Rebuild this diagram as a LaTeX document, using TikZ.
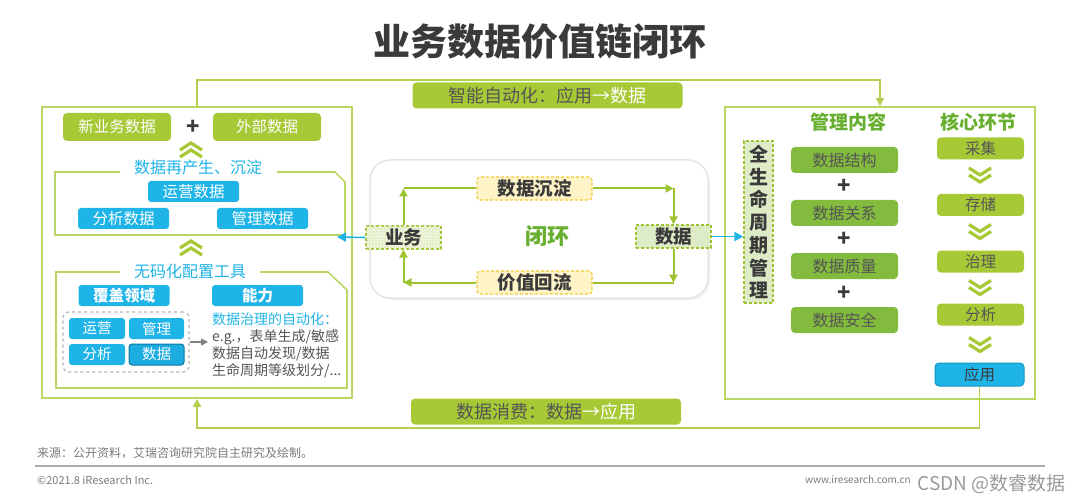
\documentclass[tikz,border=0pt]{standalone}
\usepackage{fontspec}
\setmainfont{Noto Sans CJK SC}
\usepackage{tikz}
\usetikzlibrary{arrows.meta, positioning, calc, shadows, patterns}
\usepackage{xcolor}
\definecolor{leaf}{HTML}{A6C935}
\definecolor{leafline}{HTML}{BAD764}
\definecolor{loopgreen}{HTML}{B2D04E}
\definecolor{arrowgreen}{HTML}{9DC430}
\definecolor{moss}{HTML}{82BB3D}
\definecolor{sky}{HTML}{1FB4E8}
\definecolor{skydark}{HTML}{1593C4}
\definecolor{ink}{HTML}{3A3A3A}
\definecolor{inkgray}{HTML}{555555}
\definecolor{heading}{HTML}{67AF2E}
\definecolor{sand}{HTML}{FFF4C8}
\definecolor{sandline}{HTML}{F0CB3A}
\definecolor{paleleaf}{HTML}{DDEBC6}
\definecolor{hatchbg}{HTML}{F1F6E2}
\definecolor{footgray}{HTML}{7A7A7A}
\newcommand{\pxfont}[1]{\fontsize{#1}{#1}\selectfont}

\tikzset{
  framebox/.style={draw=leafline, line width=1.6pt, inner sep=0pt},
  frameline/.style={draw=leafline, line width=1.6pt},
  leafbox/.style={fill=leaf, rounded corners=4pt, text=white, inner sep=0pt, minimum width=108pt, minimum height=28pt, font=\pxfont{15.5}},
  skybox/.style={fill=sky, rounded corners=3pt, text=white, inner sep=0pt, minimum width=91pt, minimum height=21pt, font=\pxfont{15.5}},
  smallsky/.style={skybox, minimum width=56pt, font=\pxfont{14.5}},
  skylabel/.style={fill=white, text=sky, inner sep=0pt, font=\pxfont{16}},
  banner/.style={fill=leaf, rounded corners=4pt, text=white, inner sep=0pt, minimum width=270pt, minimum height=26pt, font=\pxfont{18}},
  loopline/.style={draw=loopgreen, line width=1.6pt},
  flowtag/.style={draw=sandline, fill=sand, dash pattern=on 3pt off 2pt, line width=1.2pt, rounded corners=3pt, minimum width=115pt, minimum height=23pt, inner sep=0pt, text=ink, font=\pxfont{18.5}\bfseries},
  endtag/.style={draw=arrowgreen, dash pattern=on 3pt off 2pt, line width=1.2pt, minimum width=75pt, minimum height=23pt, inner sep=0pt, text=ink, font=\pxfont{18.5}\bfseries},
  flow/.style={draw=arrowgreen, line width=2pt},
  flowtip/.style={flow, -{Triangle[length=8pt, width=8pt]}},
  skyarrow/.style={draw=sky, line width=1.6pt, -{Triangle[length=9pt, width=9pt]}},
  mossbox/.style={fill=moss, rounded corners=4pt, text=inkgray, inner sep=0pt, minimum width=107pt, minimum height=26pt, font=\pxfont{16}},
  stagebox/.style={fill=leaf, rounded corners=4pt, text=inkgray, inner sep=0pt, minimum width=87pt, minimum height=22pt, font=\pxfont{15.5}},
  plussign/.style={text=ink, inner sep=0pt, font=\pxfont{22}\bfseries},
  chevup/.pic={\draw[leaf, line width=3.2pt] (-11,1)--(0,-6)--(11,1) (-11,8)--(0,1)--(11,8);},
  chevdown/.pic={\draw[leaf, line width=3.2pt] (-11,-8)--(0,-1)--(11,-8) (-11,-1)--(0,6)--(11,-1);}
}

\begin{document}
\begin{tikzpicture}[x=1pt, y=-1pt]
\useasboundingbox (0,0) rectangle (1080,500);

% title
\node[font=\pxfont{37}\bfseries, text=ink] (title) at (540,42) {业务数据价值链闭环};

% outer frames
\node[framebox, minimum width=310pt, minimum height=291pt] (lbox) at (197,252.5) {};
\node[framebox, minimum width=310pt, minimum height=292pt] (rbox) at (880,253) {};

% loop between the two sides
\coordinate (looptop) at (540,80);
\coordinate (loopbot) at (197,428);
\node[banner] (autoban) at (547.5,95.5) {\textcolor{inkgray}{智能自动化：应用}→数据};

% left side
\node[leafbox] (newbiz) at (117,127) {新业务数据};
\node[leafbox] (outer) at (267,127) {外部数据};
\node[plussign] (plusA) at (193,127) {+};
\pic at (191,149) {chevup};
\draw[frameline] (120,172) -| (55,235) -- (345,235) -- (345,182) -- (335,172) -- (277,172);
\node[skylabel] (regen) at (198,167) {数据再产生、沉淀};
\node[skybox] (opsdata) at (193.5,191.5) {运营数据};
\node[skybox] (anadata) at (123.5,218.5) {分析数据};
\node[skybox] (mgtdata) at (262.5,218.5) {管理数据};
\pic at (191,247) {chevup};
\draw[frameline] (120,272) -| (56,388) -- (347,388) -- (347,290) -- (328,272) -- (260,272);
\node[skylabel] (nocode) at (190,271) {无码化配置工具};
\node[skybox, font=\pxfont{15.5}\bfseries] (cover) at (124,295.5) {覆盖领域};
\node[skybox, font=\pxfont{15.5}\bfseries] (abil) at (257.5,295.5) {能力};
\node[draw=gray!60, dashed, line width=1.2pt, rounded corners=6pt, minimum width=126pt, minimum height=60pt, inner sep=0pt] (domains) at (126,342) {};
\node[smallsky] (dops) at (97,328.5) {运营};
\node[smallsky, minimum width=55pt] (dmgt) at (156.5,328.5) {管理};
\node[smallsky] (dana) at (97,354.5) {分析};
\node[smallsky, minimum width=55pt, fill=sky!75!skydark, draw=skydark!80!black, line width=1pt] (ddata) at (156.5,354.5) {数据};
\node[anchor=north west, inner sep=0pt, align=left, text=inkgray, font=\fontsize{14}{17}\selectfont] (abiltext) at (212,312) {\textcolor{sky}{数据治理的自动化：}\\e.g.，表单生成/敏感\\数据自动发现/数据\\生命周期等级划分/...};
\draw[draw=gray, line width=1.6pt, -{Triangle[length=7pt, width=7pt]}, shorten >=4pt] (domains.east) -- (domains.east -| abiltext.west);

% closed loop in the middle
\node[draw=gray!20, fill=white, line width=1.5pt, rounded corners=20pt, minimum width=338pt, minimum height=138pt, drop shadow={opacity=0.12, shadow xshift=2pt, shadow yshift=-2pt}] (loopcard) at (539,229) {};
\node[endtag, fill=hatchbg, postaction={pattern=north east lines, pattern color=arrowgreen!45}] (biz) at (403.5,237.5) {业务};
\node[endtag, fill=paleleaf] (data) at (673.5,236.5) {数据};
\node[flowtag] (settle) at (534.5,188.5) {数据沉淀};
\node[flowtag] (payback) at (534.5,282.5) {价值回流};
\node[text=heading, font=\pxfont{22}\bfseries] (closed) at (547,236) {闭环};
\coordinate (cornerA) at (biz.north |- settle.west);
\coordinate (cornerB) at (data.north |- settle.east);
\coordinate (cornerC) at (data.south |- payback.east);
\coordinate (cornerD) at (biz.south |- payback.west);
\draw[flowtip] (biz.north) -- (cornerA);
\draw[flow] (cornerA) -- (settle.west);
\draw[flowtip] (settle.east) -- (cornerB);
\draw[flowtip] (cornerB) -- (data.north);
\draw[flowtip] (data.south) -- (cornerC);
\draw[flow] (cornerC) -- (payback.east);
\draw[flowtip] (payback.west) -- (cornerD);
\draw[flowtip] (cornerD) -- (biz.south);

% right side
\node[text=heading, font=\pxfont{19}\bfseries] (mgthead) at (848,122) {管理内容};
\node[text=heading, font=\pxfont{19}\bfseries] (corehead) at (978,122) {核心环节};
\node[draw=arrowgreen, fill=paleleaf, dash pattern=on 3pt off 2pt, line width=1.2pt, minimum width=29pt, minimum height=162pt, inner sep=0pt, align=center, text=ink, font=\fontsize{19}{22.8}\selectfont\bfseries] (life) at (758.5,222) {全\\生\\命\\周\\期\\管\\理};
\node[mossbox] (struct) at (844.5,160) {数据结构};
\node[plussign] (plusB) at (844,186.5) {+};
\node[mossbox] (relat) at (844.5,213) {数据关系};
\node[plussign] (plusC) at (844,239.5) {+};
\node[mossbox] (quality) at (844.5,266) {数据质量};
\node[plussign] (plusD) at (844,293) {+};
\node[mossbox] (secure) at (844.5,320) {数据安全};
\node[stagebox] (collect) at (980.5,148.5) {采集};
\pic at (980,176) {chevdown};
\node[stagebox] (store) at (980.5,205) {存储};
\pic at (980,232.5) {chevdown};
\node[stagebox] (govern) at (980.5,261.5) {治理};
\pic at (980,288.5) {chevdown};
\node[stagebox] (analyse) at (980.5,314.5) {分析};
\pic at (980,345.5) {chevdown};
\node[stagebox, fill=sky, draw=skydark, line width=1pt, minimum width=89pt, minimum height=23pt, text=ink] (apply) at (979.5,374.5) {应用};

% cross links
\coordinate (sinkL) at (337,237);
\draw[skyarrow] (biz.west) -- (sinkL);
\draw[skyarrow] (data.east) -- (data.east -| life.west);
\draw[loopline, -{Triangle[length=8pt, width=8pt]}] (lbox.north) |- (looptop) -| (rbox.north);
\draw[loopline, -{Triangle[length=8pt, width=8pt]}] (apply.south) |- (loopbot) -- (lbox.south);
\node[banner] (useban) at (546,411.5) {\textcolor{inkgray}{数据消费：数据}→应用};

% footer
\node[anchor=west, inner sep=0pt, text=footgray, font=\pxfont{12}] (source) at (37,453) {来源：公开资料，艾瑞咨询研究院自主研究及绘制。};
\draw[draw=gray!65, line width=2pt] (35,466) -- (1045,466);
\node[anchor=west, inner sep=0pt, text=footgray, font=\pxfont{11}] (copy) at (37,480) {©2021.8 iResearch Inc.};
\node[anchor=east, inner sep=0pt, text=footgray, font=\pxfont{10}] (site) at (911,480) {www.iresearch.com.cn};
\node[anchor=east, inner sep=0pt, text=gray!80, font=\pxfont{19}] (mark) at (1066,484) {CSDN @数睿数据};
\end{tikzpicture}
\end{document}
